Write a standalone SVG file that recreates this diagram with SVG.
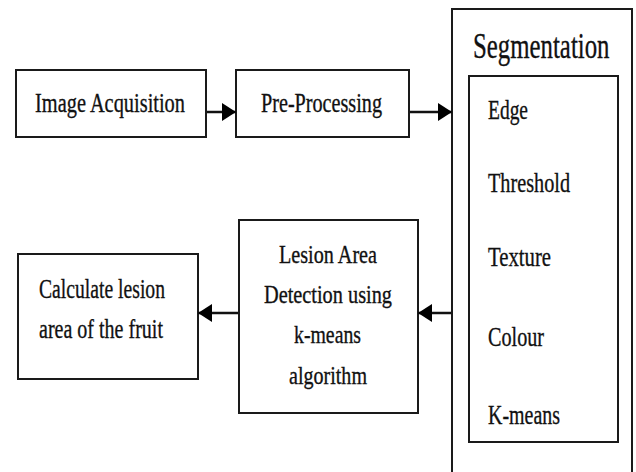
<svg xmlns="http://www.w3.org/2000/svg" width="636" height="472" viewBox="0 0 636 472">
<style>
.box{fill:#fff;stroke:#1a1a1a;stroke-width:2}
.t{font-family:"Liberation Serif","Times New Roman",serif;fill:#111;stroke:#111;stroke-width:0.35;font-size:28px}
.s{font-size:26px}
.c{fill:none;stroke:#111;stroke-width:2.5}
</style>
<defs>
<marker id="ah" viewBox="0 0 14 18" refX="14" refY="9" markerWidth="14" markerHeight="18" markerUnits="userSpaceOnUse" orient="auto">
<path d="M0,0 L14,9 L0,18 Z" fill="#000"/>
</marker>
</defs>
<rect width="636" height="472" fill="#fff"/>
<g id="segmentation">
<path class="box" d="M452,480 L452,9 L632,9 L632,480"/>
<text class="t" transform="translate(473,58) scale(0.69,1)" x="0" y="0" style="font-size:36px">Segmentation</text>
<rect class="box" x="469" y="76" width="149" height="366"/>
<text class="t" x="488" y="119" textLength="40" lengthAdjust="spacingAndGlyphs">Edge</text>
<text class="t" x="488" y="192" textLength="82" lengthAdjust="spacingAndGlyphs">Threshold</text>
<text class="t" x="488" y="266" textLength="63" lengthAdjust="spacingAndGlyphs">Texture</text>
<text class="t" x="488" y="346" textLength="56" lengthAdjust="spacingAndGlyphs">Colour</text>
<text class="t" x="488" y="424" textLength="72" lengthAdjust="spacingAndGlyphs">K-means</text>
</g>
<g id="image-acquisition">
<rect class="box" x="16" y="70" width="190" height="67"/>
<text class="t" x="35" y="112" textLength="150" lengthAdjust="spacingAndGlyphs">Image Acquisition</text>
</g>
<g id="pre-processing">
<rect class="box" x="236" y="70" width="173" height="67"/>
<text class="t" x="261" y="112" textLength="121" lengthAdjust="spacingAndGlyphs">Pre-Processing</text>
</g>
<g id="lesion-detection">
<rect class="box" x="239" y="220" width="179" height="193"/>
<text class="t s" x="279" y="263" textLength="98" lengthAdjust="spacingAndGlyphs">Lesion Area</text>
<text class="t s" x="264" y="303" textLength="128" lengthAdjust="spacingAndGlyphs">Detection using</text>
<text class="t s" x="294" y="343" textLength="67" lengthAdjust="spacingAndGlyphs">k-means</text>
<text class="t s" x="289" y="384" textLength="78" lengthAdjust="spacingAndGlyphs">algorithm</text>
</g>
<g id="calculate-area">
<rect class="box" x="18" y="254" width="180" height="125"/>
<text class="t" x="39" y="298" textLength="126" lengthAdjust="spacingAndGlyphs">Calculate lesion</text>
<text class="t" x="39" y="338" textLength="124" lengthAdjust="spacingAndGlyphs">area of the fruit</text>
</g>
<g id="connectors">
<line class="c" x1="207" y1="112" x2="236" y2="112" marker-end="url(#ah)"/>
<line class="c" x1="410" y1="112" x2="452" y2="112" marker-end="url(#ah)"/>
<line class="c" x1="451" y1="313" x2="418" y2="313" marker-end="url(#ah)"/>
<line class="c" x1="238" y1="313" x2="198" y2="313" marker-end="url(#ah)"/>
</g>
</svg>
